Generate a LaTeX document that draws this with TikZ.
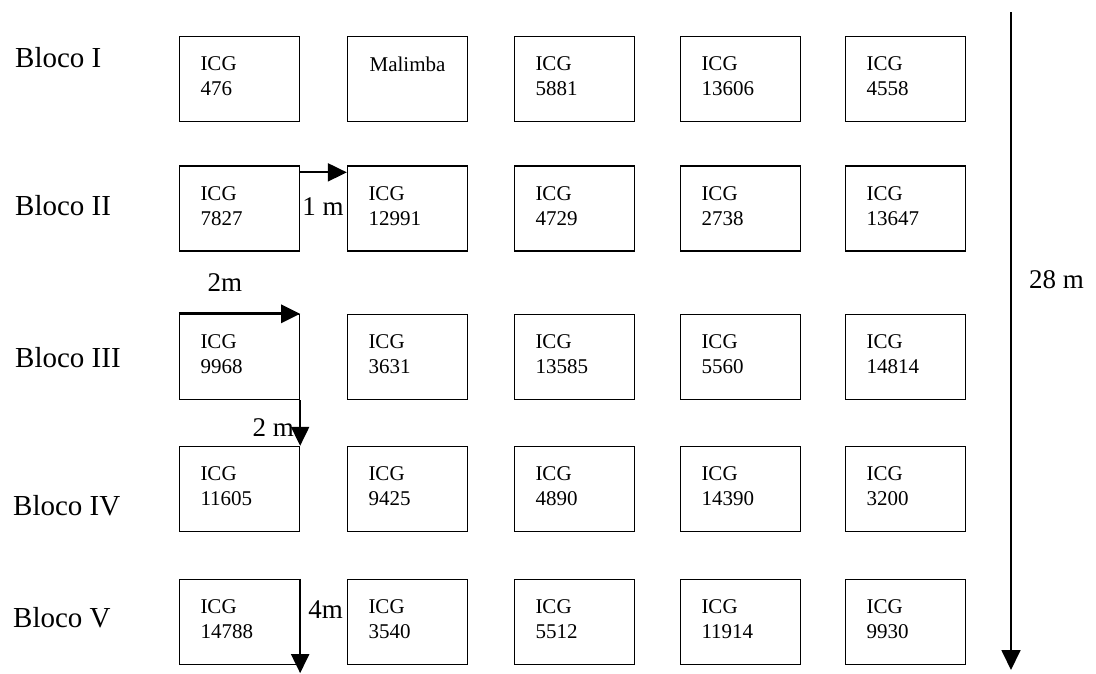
\documentclass[tikz,border=0pt]{standalone}
\usepackage{fontspec}
\setmainfont{Liberation Serif}
\usetikzlibrary{arrows.meta,positioning,calc}

\begin{document}
\begin{tikzpicture}[x=1pt,y=-1pt,
  plot/.style={draw, line width=1.3pt, minimum width=120pt, minimum height=85pt,
    inner xsep=21pt, inner ysep=2pt, text width=78pt, align=left, text depth=30pt,
    font=\fontsize{21}{25}\selectfont},
  blocklabel/.style={anchor=base west, inner sep=0pt, font=\fontsize{29}{33}\selectfont},
  dimlabel/.style={inner sep=0pt, font=\fontsize{27}{31}\selectfont},
  dimarrow/.style={-{Triangle[length=19pt,width=18pt]}, line width=2pt}]
  \useasboundingbox (0,0) rectangle (1096,673);

  % Block names
  \node[blocklabel] (blk1) at (15,67) {Bloco I};
  \node[blocklabel] (blk2) at (15,215) {Bloco II};
  \node[blocklabel] (blk3) at (15,367) {Bloco III};
  \node[blocklabel] (blk4) at (13,515) {Bloco IV};
  \node[blocklabel] (blk5) at (13,627) {Bloco V};

  % Bloco I
  \node[plot] (b11) at (239.5,79) {ICG\\476};
  \node[plot, align=center, inner xsep=10pt, text width=100pt] (b12) at (407.5,79) {Malimba\\~};
  \node[plot] (b13) at (574.5,79) {ICG\\5881};
  \node[plot] (b14) at (740.5,79) {ICG\\13606};
  \node[plot] (b15) at (905.5,79) {ICG\\4558};

  % Bloco II
  \node[plot] (b21) at (239.5,208.5) {ICG\\7827};
  \node[plot] (b22) at (407.5,208.5) {ICG\\12991};
  \node[plot] (b23) at (574.5,208.5) {ICG\\4729};
  \node[plot] (b24) at (740.5,208.5) {ICG\\2738};
  \node[plot] (b25) at (905.5,208.5) {ICG\\13647};

  % Bloco III
  \node[plot] (b31) at (239.5,357) {ICG\\9968};
  \node[plot] (b32) at (407.5,357) {ICG\\3631};
  \node[plot] (b33) at (574.5,357) {ICG\\13585};
  \node[plot] (b34) at (740.5,357) {ICG\\5560};
  \node[plot] (b35) at (905.5,357) {ICG\\14814};

  % Bloco IV
  \node[plot] (b41) at (239.5,489) {ICG\\11605};
  \node[plot] (b42) at (407.5,489) {ICG\\9425};
  \node[plot] (b43) at (574.5,489) {ICG\\4890};
  \node[plot] (b44) at (740.5,489) {ICG\\14390};
  \node[plot] (b45) at (905.5,489) {ICG\\3200};

  % Bloco V
  \node[plot] (b51) at (239.5,622) {ICG\\14788};
  \node[plot] (b52) at (407.5,622) {ICG\\3540};
  \node[plot] (b53) at (574.5,622) {ICG\\5512};
  \node[plot] (b54) at (740.5,622) {ICG\\11914};
  \node[plot] (b55) at (905.5,622) {ICG\\9930};

  % 1 m between plots
  \coordinate (a1) at ($(b21.north east)+(0,7)$);
  \draw[dimarrow] (a1) -- (a1 -| b22.west);
  \node[dimlabel, anchor=base west] (l1m) at ($(b21.east)+(2,6.5)$) {1 m};

  % 2m plot width
  \draw[dimarrow, line width=3pt] (b31.north west) -- (b31.north east);
  \node[dimlabel, anchor=base] (l2m) at ($(b31.north west)+(46,-22.5)$) {2m};

  % 2 m between blocks
  \draw[dimarrow] (b31.south east) -- (b41.north east);
  \node[dimlabel, anchor=base east] (l2mb) at ($(b41.north east)+(-6,-9)$) {2 m};

  % 4m plot length
  \coordinate (a4) at ($(b51.south east)+(0,8)$);
  \draw[dimarrow] (b51.north east) -- (a4);
  \node[dimlabel, anchor=base west] (l4m) at ($(b51.east)+(8,-4)$) {4m};

  % 28 m total
  \coordinate (t0) at (1011,12);
  \coordinate (t1) at (1011,670);
  \draw[-{Triangle[length=20pt,width=19pt]}, line width=1.8pt] (t0) -- (t1);
  \node[dimlabel, anchor=base west] (l28m) at (1029,288) {28 m};
\end{tikzpicture}
\end{document}
